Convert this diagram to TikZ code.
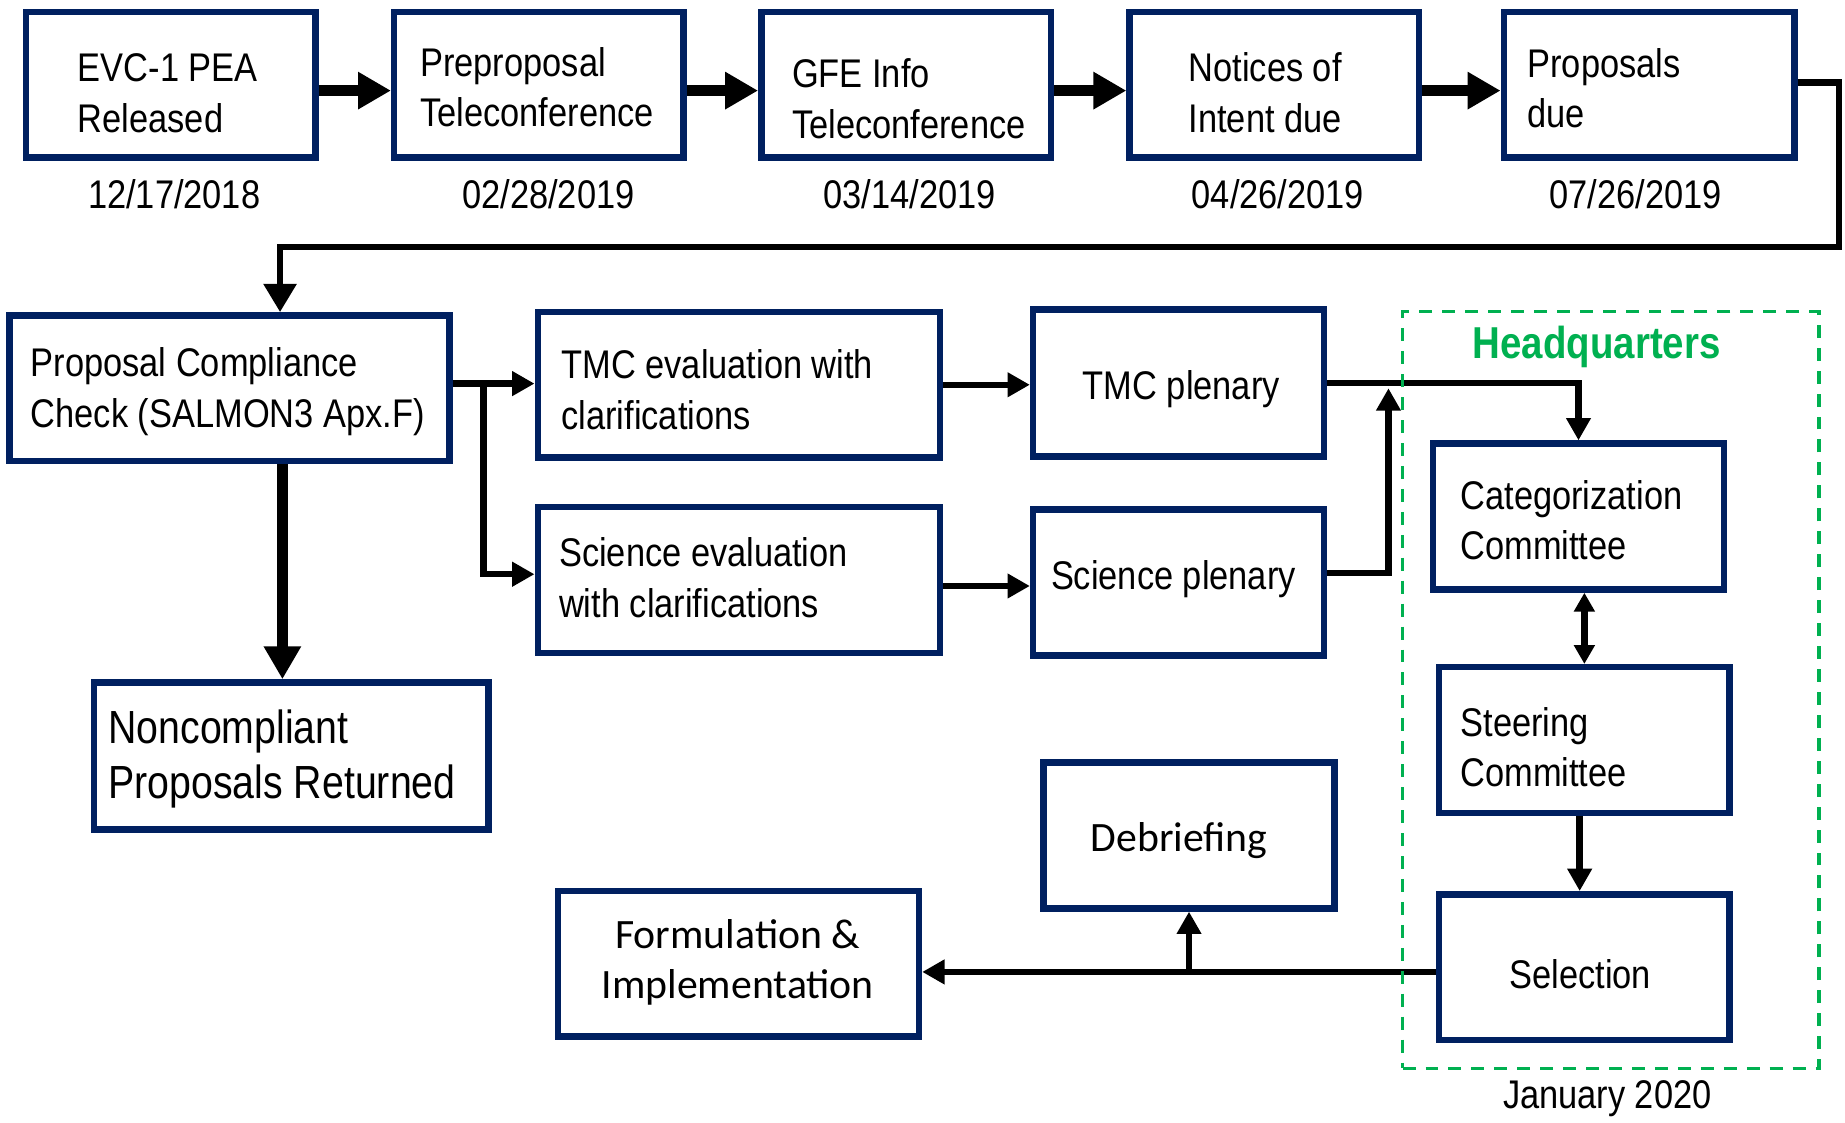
\documentclass[tikz,border=0pt]{standalone}
\usepackage{fontspec}
\usetikzlibrary{arrows.meta}
\newfontfamily\narrowfont[FakeStretch=0.86]{Liberation Sans}
\newfontfamily\narrowerfont[FakeStretch=0.845]{Liberation Sans}
\newfontfamily\calibrifont{Carlito}
\definecolor{navy}{HTML}{002060}
\definecolor{hqgreen}{HTML}{00B050}
\begin{document}
\begin{tikzpicture}[x=1pt,y=-1pt,
  box/.style={draw=navy, line width=5.5pt, fill=white, rectangle, inner sep=0pt},
  txt/.style={font=\narrowfont\fontsize{34}{43}\selectfont, align=left, inner sep=0pt},
  bigtxt/.style={font=\narrowerfont\fontsize{39.5}{47}\selectfont, align=left, inner sep=0pt},
  ctxt/.style={font=\calibrifont\fontsize{35.5}{43}\selectfont, align=center, inner sep=0pt},
  thickarr/.style={line width=10pt, -{Triangle[length=28pt, width=30pt]}},
  conn/.style={line width=5.5pt, -{Triangle[length=19pt, width=20pt]}},
  bigconn/.style={line width=5.5pt, -{Triangle[length=24pt, width=27pt]}},
  dconn/.style={line width=5.5pt, {Triangle[length=16pt, width=17pt]}-{Triangle[length=16pt, width=17pt]}},
  hqbox/.style={draw=hqgreen, line width=2.8pt, dash pattern=on 11pt off 8.5pt, rectangle, inner sep=0pt}
]
\useasboundingbox (0,0) rectangle (1568,954);

% ---- top row boxes
\node[box, minimum width=246pt, minimum height=124pt] (evc) at (145,72) {};
\node[box, minimum width=246pt, minimum height=124pt] (prep) at (458,72) {};
\node[box, minimum width=246pt, minimum height=124pt] (gfe) at (770,72) {};
\node[box, minimum width=246pt, minimum height=124pt] (not) at (1083,72) {};
\node[box, minimum width=247pt, minimum height=124pt] (prop) at (1401.5,72) {};

\node[txt, anchor=west] (evct) at (66,79) {EVC-1 PEA\\Released};
\node[txt, anchor=west] (prept) at (357,74) {Preproposal\\Teleconference};
\node[txt, anchor=west] (gfet) at (673,84) {GFE Info\\Teleconference};
\node[txt, anchor=west] (nott) at (1010,79) {Notices of\\Intent due};
\node[txt, anchor=west] (propt) at (1298,75) {Proposals\\due};

\node[txt] (d1) at (148,165) {12/17/2018};
\node[txt] (d2) at (466,165) {02/28/2019};
\node[txt] (d3) at (773,165) {03/14/2019};
\node[txt] (d4) at (1086,165) {04/26/2019};
\node[txt] (d5) at (1390,165) {07/26/2019};

% ---- second part boxes
\node[box, minimum width=374pt, minimum height=124pt] (comp) at (195,330) {};
\node[box, minimum width=342pt, minimum height=124pt] (tmce) at (628,327) {};
\node[box, minimum width=342pt, minimum height=124pt] (scie) at (628,493) {};
\node[box, minimum width=247pt, minimum height=125pt] (tmcp) at (1001.5,325.5) {};
\node[box, minimum width=247pt, minimum height=124pt] (scip) at (1001.5,495) {};
\node[box, minimum width=247pt, minimum height=124pt] (cat) at (1341.5,439) {};
\node[box, minimum width=247pt, minimum height=124pt] (steer) at (1346.5,629) {};
\node[box, minimum width=247pt, minimum height=124pt] (sel) at (1346.5,822) {};
\node[box, minimum width=335pt, minimum height=125pt] (nonc) at (247.5,642.5) {};
\node[box, minimum width=247pt, minimum height=124pt] (deb) at (1010.5,710) {};
\node[box, minimum width=307pt, minimum height=124pt] (form) at (627.5,819) {};

\node[txt, anchor=west] (compt) at (26,333) {Proposal Compliance\\Check (SALMON3 Apx.F)};
\node[txt, anchor=west] (tmcet) at (477,331) {TMC evaluation with\\clarifications};
\node[txt, anchor=west] (sciet) at (475,491) {Science evaluation\\with clarifications};
\node[txt] (tmcpt) at (1004,331) {TMC plenary};
\node[txt, anchor=west] (scipt) at (893,492) {Science plenary};
\node[txt, anchor=west] (catt) at (1241,442) {Categorization\\Committee};
\node[txt, anchor=west] (steert) at (1241,635) {Steering\\Committee};
\node[txt] (selt) at (1343,828) {Selection};
\node[bigtxt, anchor=west] (nonct) at (92,645) {Noncompliant\\Proposals Returned};
\node[ctxt] (debt) at (1002,714) {Debriefing};
\node[ctxt] (formt) at (627,818) {Formulation \&\\Implementation};

% ---- connectors
\draw[thickarr] ([yshift=-5pt]evc.east) -- ([yshift=-5pt]prep.west);
\draw[thickarr] ([yshift=-5pt]prep.east) -- ([yshift=-5pt]gfe.west);
\draw[thickarr] ([yshift=-5pt]gfe.east) -- ([yshift=-5pt]not.west);
\draw[thickarr] ([yshift=-5pt]not.east) -- ([yshift=-5pt]prop.west);

\coordinate (turn) at (1563,210);
\draw[bigconn] ([yshift=2pt]prop.east) -| (turn) -| ([xshift=43pt]comp.north);

\draw[thickarr] ([xshift=45pt]comp.south) -- ([xshift=45pt]comp.south |- nonc.north);

\coordinate (c1) at ([yshift=4pt]comp.east);
\draw[conn] (c1) -- (c1 -| tmce.west);
\draw[conn] ([xshift=26pt]c1) |- ([yshift=5pt]scie.west);

\draw[conn] (tmce.east) -- (tmce.east -| tmcp.west);
\coordinate (c2) at ([yshift=-5pt]scie.east);
\draw[conn] (c2) -- (c2 -| scip.west);

\coordinate (jn) at (1180,330);
\draw[conn] ([yshift=8pt]scip.east) -| (jn);
\draw[conn] (tmcp.east) -| (cat.north);

\draw[dconn] (cat.south -| steer.north) -- (steer.north);
\draw[conn] ([xshift=-4pt]steer.south) -- ([xshift=-4pt]sel.north);

\coordinate (s2) at ([yshift=-4pt]sel.west);
\draw[conn] (s2) -- (s2 -| form.east);
\draw[conn] (s2 -| deb.south) -- (deb.south);

% ---- headquarters frame
\node[hqbox, minimum width=354pt, minimum height=643pt] (hq) at (1369,586.5) {};
\node[font=\narrowfont\bfseries\fontsize{38}{44}\selectfont, text=hqgreen, inner sep=0pt] (hqt) at (1357,295) {Headquarters};
\node[txt] (jant) at (1366,934) {January 2020};
\end{tikzpicture}
\end{document}
